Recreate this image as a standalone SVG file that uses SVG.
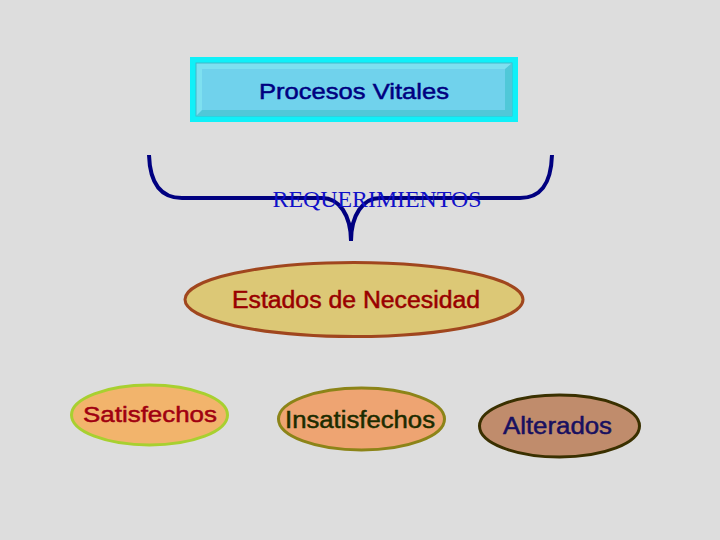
<svg xmlns="http://www.w3.org/2000/svg" width="720" height="540" viewBox="0 0 720 540">
<style>
.sans{font-family:"Liberation Sans",Arial,sans-serif;stroke-width:0.5;}
.serif{font-family:"Liberation Serif","Times New Roman",serif;}
.ell{stroke-width:3;}
</style>
<rect width="720" height="540" fill="#dddddd"/>
<g id="procesos">
<rect x="190" y="57" width="328" height="65" fill="#10f0f8"/>
<rect x="196" y="63" width="316" height="53" fill="#7ee0f0" stroke="#40b8c8" stroke-width="1"/>
<polygon points="196,116 512,116 512,63 505,69 505,110 202,110" fill="#50c8d8"/>
<rect x="202" y="69" width="303" height="41" fill="#70d2ec"/>
<text class="sans" x="354" y="98.5" font-size="22.5" fill="#000080" stroke="#000080" text-anchor="middle" textLength="190" lengthAdjust="spacingAndGlyphs">Procesos Vitales</text>
</g>
<g id="connectors">
<path d="M149,155 C150,185 162,198 182,198 L322,198 C339,198 351,215 351,241 C351,215 363,198 380,198 L520,198 C540,198 551,185 552,155" fill="none" stroke="#000080" stroke-width="4"/>
</g>
<g id="requerimientos">
<text class="serif" x="377" y="207" font-size="22.5" fill="#1010c8" text-anchor="middle" textLength="209" lengthAdjust="spacingAndGlyphs">REQUERIMIENTOS</text>
</g>
<g id="estados">
<ellipse cx="354" cy="299.5" rx="169" ry="37" fill="#dcc876" stroke="#a0461e" class="ell"/>
<text class="sans" x="356" y="308" font-size="23" fill="#990000" stroke="#990000" text-anchor="middle" textLength="248" lengthAdjust="spacingAndGlyphs">Estados de Necesidad</text>
</g>
<g id="satisfechos">
<ellipse cx="149.5" cy="415" rx="78" ry="30" fill="#f2b46c" stroke="#a8d030" class="ell"/>
<text class="sans" x="150" y="422" font-size="22.5" fill="#a00010" stroke="#a00010" text-anchor="middle" textLength="134" lengthAdjust="spacingAndGlyphs">Satisfechos</text>
</g>
<g id="insatisfechos">
<ellipse cx="361.5" cy="419" rx="83" ry="31" fill="#eea472" stroke="#8c8418" class="ell"/>
<text class="sans" x="360" y="428" font-size="23" fill="#1c2c00" stroke="#1c2c00" text-anchor="middle" textLength="150" lengthAdjust="spacingAndGlyphs">Insatisfechos</text>
</g>
<g id="alterados">
<ellipse cx="559.5" cy="426" rx="80" ry="31" fill="#c08c6c" stroke="#3a3000" class="ell"/>
<text class="sans" x="557.5" y="434" font-size="23" fill="#181060" stroke="#181060" text-anchor="middle" textLength="109" lengthAdjust="spacingAndGlyphs">Alterados</text>
</g>
</svg>
